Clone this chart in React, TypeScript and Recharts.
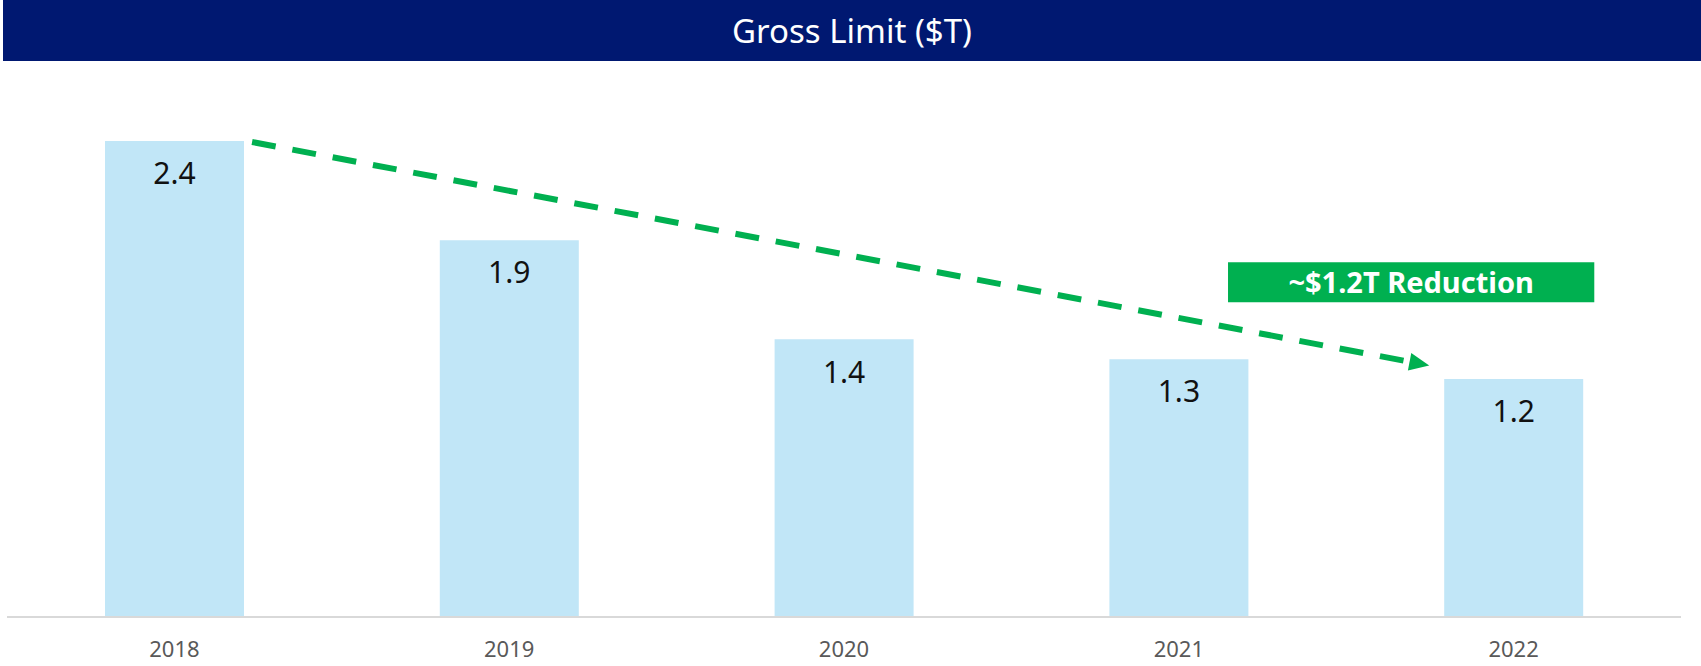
import { Bar, BarChart, LabelList, ReferenceArea, ReferenceLine, XAxis, YAxis } from "recharts";

const years = ["2018", "2019", "2020", "2021", "2022"];
const grossLimit = [2.4, 1.9, 1.4, 1.3, 1.2];

// trend arrow, in (category-position, value) units
const arrowFrom = { x: 0.732, y: 2.395 };
const arrowTo = { x: 4.248, y: 1.268 };

// callout box
const calloutText = "~$1.2T Reduction";
const calloutX = [3.647, 4.741];
const calloutY = [1.587, 1.789];

const GREEN = "#00B050";
const NAVY = "#001871";
const BAR = "#C1E6F7";

const data = years.map((year, i) => ({ year, value: grossLimit[i], pos: i + 0.5 }));

function DashedArrow(props: any) {
  const { x1, y1, x2, y2 } = props;
  const dx = x2 - x1;
  const dy = y2 - y1;
  const len = Math.sqrt(dx * dx + dy * dy) || 1;
  const ux = dx / len;
  const uy = dy / len;
  const head = 20;
  const half = 9;
  const bx = x2 - ux * head;
  const by = y2 - uy * head;
  return (
    <g>
      <line
        x1={x1}
        y1={y1}
        x2={bx}
        y2={by}
        stroke={GREEN}
        strokeWidth={6}
        strokeDasharray="24 17"
      />
      <polygon
        points={`${x2},${y2} ${bx - uy * half},${by + ux * half} ${bx + uy * half},${by - ux * half}`}
        fill={GREEN}
      />
    </g>
  );
}

export default function App() {
  return (
    <div
      style={{
        position: "absolute",
        left: 0,
        top: 0,
        width: 1701,
        height: 666,
        background: "#fff",
        fontFamily: "'Noto Sans', sans-serif",
      }}
    >
      <div
        style={{
          position: "absolute",
          left: 3,
          top: 0,
          width: 1698,
          height: 61,
          background: NAVY,
          color: "#fff",
          fontSize: 33,
          lineHeight: "61px",
          textAlign: "center",
        }}
      >
        Gross Limit ($T)
      </div>
      <BarChart
        width={1701}
        height={666}
        data={data}
        margin={{ top: 22, right: 20, left: 7, bottom: 0 }}
      >
        <XAxis
          xAxisId="cat"
          dataKey="year"
          height={49}
          tickLine={false}
          tickMargin={18}
          axisLine={{ stroke: "#D9D9D9", strokeWidth: 2 }}
          tick={{ fill: "#595959", fontSize: 22 }}
        />
        <XAxis xAxisId="n" dataKey="pos" type="number" domain={[0, 5]} allowDataOverflow hide />
        <YAxis domain={[0, 3]} hide />
        <Bar xAxisId="cat" dataKey="value" fill={BAR} barSize={139} isAnimationActive={false}>
          <LabelList dataKey="value" position="insideTop" offset={22} fill="#111" fontSize={30} />
        </Bar>
        <ReferenceLine
          xAxisId="n"
          segment={[arrowFrom, arrowTo]}
          ifOverflow="visible"
          shape={(p: any) => <DashedArrow {...p} />}
        />
        <ReferenceArea
          xAxisId="n"
          x1={calloutX[0]}
          x2={calloutX[1]}
          y1={calloutY[0]}
          y2={calloutY[1]}
          ifOverflow="visible"
          fill={GREEN}
          fillOpacity={1}
          stroke="none"
          label={{ value: calloutText, position: "center", fill: "#fff", fontSize: 29, fontWeight: 700 }}
        />
      </BarChart>
    </div>
  );
}
